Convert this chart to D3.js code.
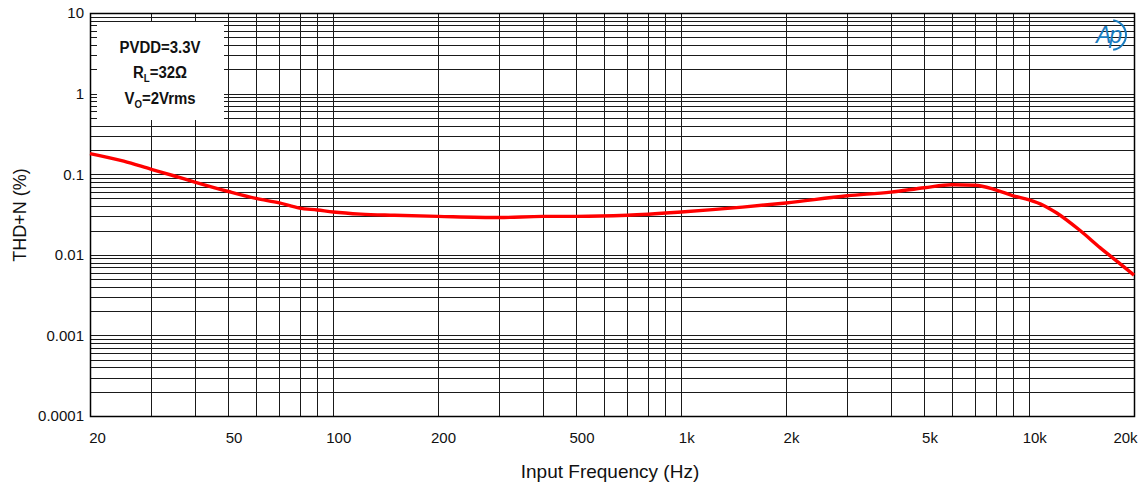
<!DOCTYPE html>
<html>
<head>
<meta charset="utf-8">
<script src="https://cdn.jsdelivr.net/npm/d3@7"></script>
<style>
  body { margin: 0; background: #fff; }
  svg text { font-family: "Liberation Sans", Arial, sans-serif; }
</style>
</head>
<body>
<div id="chart"></div>
<script>
// Data
const freqs = [20, 25, 30, 35, 40, 50, 60, 70, 80, 90, 100, 120, 150, 200, 300, 400, 500, 700,
  1000, 1500, 2000, 3000, 4000, 5000, 6000, 7000, 8000, 9000, 10000, 11000, 12000, 14000, 16000, 18000, 20000];
const thdn = [0.18, 0.145, 0.115, 0.095, 0.080, 0.061, 0.050, 0.044, 0.038, 0.036, 0.034, 0.032, 0.031, 0.030, 0.029, 0.030, 0.030, 0.031,
  0.034, 0.039, 0.044, 0.054, 0.060, 0.068, 0.074, 0.073, 0.064, 0.054, 0.048, 0.041, 0.033, 0.020, 0.0122, 0.0081, 0.0056];
const xTicks = [20, 50, 100, 200, 500, 1000, 2000, 5000, 10000, 20000];
const xTickLabels = ["20", "50", "100", "200", "500", "1k", "2k", "5k", "10k", "20k"];
const yTicks = [0.0001, 0.001, 0.01, 0.1, 1, 10];
const yTickLabels = ["0.0001", "0.001", "0.01", "0.1", "1", "10"];
const legendLines = ["PVDD=3.3V", "R_L=32Ω", "V_O=2Vrms"];

const W = 1144, H = 491;
const margin = { top: 13, right: 10, bottom: 75, left: 90 };
const width = W - margin.left - margin.right;
const height = H - margin.top - margin.bottom;

const svg = d3.select("#chart").append("svg")
  .attr("width", W).attr("height", H);
const g = svg.append("g").attr("transform", `translate(${margin.left},${margin.top})`);

const x = d3.scaleLog().domain([20, 20000]).range([0, width]);
const y = d3.scaleLog().domain([0.0001, 10]).range([height, 0]);

// Grid lines: every 1..9 multiple in each decade
const xGrid = [];
for (let d = 10; d <= 10000; d *= 10)
  for (let m = 1; m <= 9; m++) { const v = d * m; if (v > 20 && v < 20000) xGrid.push(v); }
const yGrid = [];
for (let d = 0.0001; d < 10; d *= 10)
  for (let m = 1; m <= 9; m++) { const v = d * m; if (v > 0.0001 * 1.01 && v < 9.99) yGrid.push(v); }

g.append("g").selectAll("line").data(xGrid).join("line")
  .attr("x1", d => Math.round(x(d)) + 0.5).attr("x2", d => Math.round(x(d)) + 0.5)
  .attr("y1", 0).attr("y2", height)
  .attr("stroke", "#1a1a1a").attr("stroke-width", 1);
g.append("g").selectAll("line").data(yGrid).join("line")
  .attr("y1", d => Math.round(y(d)) + 0.5).attr("y2", d => Math.round(y(d)) + 0.5)
  .attr("x1", 0).attr("x2", width)
  .attr("stroke", "#1a1a1a").attr("stroke-width", 1);

// Frame
g.append("rect").attr("x", 0.5).attr("y", 0.5).attr("width", width).attr("height", height)
  .attr("fill", "none").attr("stroke", "#000").attr("stroke-width", 1.5);

// Axes (labels only)
const xAxis = g.append("g").attr("transform", `translate(0,${height})`)
  .call(d3.axisBottom(x).tickValues(xTicks).tickFormat((d, i) => xTickLabels[i]).tickSize(0).tickPadding(16));
xAxis.select(".domain").remove();
xAxis.selectAll("text").attr("font-size", 15).attr("fill", "#111")
  .attr("dx", (d, i) => i === 0 ? 7 : (i === xTicks.length - 1 ? -9 : 5));

const yAxis = g.append("g")
  .call(d3.axisLeft(y).tickValues(yTicks).tickFormat((d, i) => yTickLabels[i]).tickSize(0).tickPadding(6));
yAxis.select(".domain").remove();
yAxis.selectAll("text").attr("font-size", 15).attr("fill", "#111");

// Axis titles
svg.append("text").attr("x", 610).attr("y", 478).attr("text-anchor", "middle")
  .attr("font-size", 19).attr("fill", "#111")
  .text("Input Frequency (Hz)");
svg.append("text").attr("transform", "translate(26,215) rotate(-90)").attr("text-anchor", "middle")
  .attr("font-size", 18).attr("fill", "#111")
  .text("THD+N (%)");

// Legend box
g.append("rect").attr("x", 7).attr("y", 9).attr("width", 127).attr("height", 98).attr("fill", "#fff");
const leg = g.append("g").attr("font-weight", "bold").attr("font-size", 17).attr("fill", "#111")
  .attr("transform", "translate(70,0) scale(0.88,1)");
legendLines.forEach((s, i) => {
  const t = leg.append("text").attr("x", 0).attr("y", 40 + i * 25.5).attr("text-anchor", "middle");
  const parts = s.split("_");
  if (parts.length === 1) { t.text(s); return; }
  t.append("tspan").text(parts[0]);
  const rest = parts[1];
  const sub = rest.match(/^[A-Z]+/)[0];
  t.append("tspan").attr("font-size", 11).attr("dy", 4).text(sub);
  t.append("tspan").attr("dy", -4).text(rest.slice(sub.length));
});

// Curve
const line = d3.line()
  .x(d => x(d[0])).y(d => y(d[1]))
  .curve(d3.curveMonotoneX);
g.append("path").datum(d3.zip(freqs, thdn))
  .attr("d", line).attr("fill", "none")
  .attr("stroke", "#ff0000").attr("stroke-width", 3.4)
  .attr("stroke-linejoin", "round");

// Ap logo
const logo = svg.append("g").attr("transform", "translate(1108,36)");
logo.append("text").attr("x", 0).attr("y", 7).attr("text-anchor", "middle")
  .attr("font-size", 23).attr("font-style", "italic").attr("fill", "#1a7dc0")
  .attr("letter-spacing", -2).text("Ap");
logo.append("path").attr("d", d3.arc()({ innerRadius: 14, outerRadius: 16, startAngle: 0.15, endAngle: 3.0 }))
  .attr("transform", "translate(3,-1)").attr("fill", "#1a7dc0");
</script>
</body>
</html>
